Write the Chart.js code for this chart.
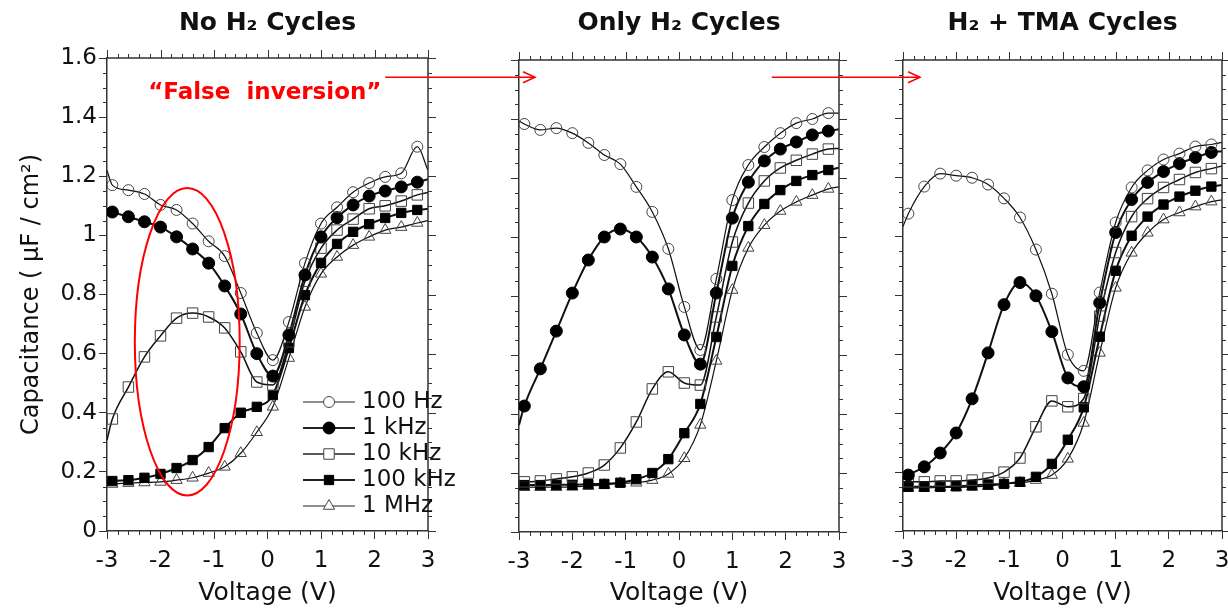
<!DOCTYPE html>
<html><head><meta charset="utf-8">
<script src="https://cdn.jsdelivr.net/npm/chart.js@4/dist/chart.umd.min.js"></script>
<style>
html,body{margin:0;padding:0;background:#fff;overflow:hidden}
#wrap{position:relative;width:1228px;height:608px}
canvas{position:absolute;left:0;top:0}
</style>
</head><body>
<div id="wrap">
<canvas id="c1" width="1228" height="608"></canvas>
<canvas id="c2" width="1228" height="608"></canvas>
<canvas id="c3" width="1228" height="608"></canvas>
</div>
<script>
// ---------------- DATA ----------------
const voltage = [-3.0, -2.9, -2.6, -2.3, -2.0, -1.7, -1.4, -1.1, -0.8, -0.5, -0.2, 0.1, 0.4, 0.7, 1.0, 1.3, 1.6, 1.9, 2.2, 2.5, 2.8, 3.0];
const seriesLabels = ['100 Hz', '1 kHz', '10 kHz', '100 kHz', '1 MHz'];
const panelTitles = ['No H\u2082 Cycles', 'Only H\u2082 Cycles', 'H\u2082 + TMA Cycles'];
const xTickLabels = [-3, -2, -1, 0, 1, 2, 3];
const yTickLabels = [0, 0.2, 0.4, 0.6, 0.8, 1, 1.2, 1.4, 1.6];

// Panel 1: No H2 cycles
const noH2_100Hz  = [1.22, 1.17, 1.153, 1.14, 1.103, 1.086, 1.04, 0.98, 0.93, 0.805, 0.67, 0.578, 0.707, 0.906, 1.04, 1.095, 1.146, 1.177, 1.198, 1.21, 1.30, 1.22];
const noH2_1kHz   = [1.086, 1.079, 1.063, 1.046, 1.028, 0.995, 0.954, 0.906, 0.829, 0.734, 0.60, 0.524, 0.663, 0.866, 0.995, 1.06, 1.103, 1.133, 1.15, 1.164, 1.18, 1.19];
const noH2_10kHz  = [0.308, 0.379, 0.487, 0.589, 0.66, 0.72, 0.737, 0.724, 0.687, 0.606, 0.504, 0.494, 0.64, 0.845, 0.957, 1.018, 1.055, 1.09, 1.10, 1.116, 1.137, 1.145];
const noH2_100kHz = [0.165, 0.169, 0.172, 0.18, 0.193, 0.213, 0.24, 0.284, 0.348, 0.40, 0.42, 0.46, 0.619, 0.798, 0.907, 0.971, 1.012, 1.038, 1.059, 1.076, 1.086, 1.09];
const noH2_1MHz   = [0.158, 0.159, 0.162, 0.164, 0.166, 0.172, 0.18, 0.196, 0.217, 0.263, 0.334, 0.42, 0.585, 0.758, 0.87, 0.927, 0.967, 0.995, 1.018, 1.028, 1.042, 1.05];

// Panel 2: Only H2 cycles
const onlyH2_100Hz  = [1.393, 1.383, 1.363, 1.369, 1.352, 1.319, 1.278, 1.247, 1.17, 1.085, 0.96, 0.763, 0.617, 0.858, 1.125, 1.244, 1.305, 1.352, 1.386, 1.40, 1.42, 1.42];
const onlyH2_1kHz   = [0.363, 0.427, 0.553, 0.681, 0.81, 0.922, 1.0, 1.027, 1.0, 0.932, 0.824, 0.668, 0.569, 0.81, 1.064, 1.186, 1.258, 1.298, 1.322, 1.346, 1.359, 1.365];
const onlyH2_10kHz  = [0.17, 0.17, 0.173, 0.18, 0.187, 0.2, 0.227, 0.285, 0.373, 0.485, 0.543, 0.505, 0.498, 0.729, 0.983, 1.115, 1.19, 1.234, 1.26, 1.281, 1.298, 1.30];
const onlyH2_100kHz = [0.159, 0.159, 0.159, 0.16, 0.16, 0.162, 0.163, 0.167, 0.179, 0.2, 0.247, 0.335, 0.434, 0.661, 0.902, 1.037, 1.112, 1.159, 1.19, 1.21, 1.227, 1.235];
const onlyH2_1MHz   = [0.152, 0.152, 0.152, 0.152, 0.153, 0.156, 0.159, 0.165, 0.167, 0.176, 0.197, 0.25, 0.363, 0.58, 0.82, 0.963, 1.04, 1.088, 1.119, 1.142, 1.163, 1.17];

// Panel 3: H2 + TMA cycles
const h2tma_100Hz  = [1.034, 1.078, 1.17, 1.214, 1.207, 1.20, 1.177, 1.13, 1.065, 0.956, 0.806, 0.599, 0.544, 0.81, 1.048, 1.167, 1.225, 1.262, 1.282, 1.306, 1.313, 1.32];
const h2tma_1kHz   = [0.175, 0.19, 0.218, 0.265, 0.333, 0.449, 0.605, 0.769, 0.844, 0.799, 0.677, 0.52, 0.49, 0.775, 1.014, 1.126, 1.184, 1.221, 1.248, 1.269, 1.286, 1.29];
const h2tma_10kHz  = [0.167, 0.167, 0.167, 0.17, 0.17, 0.173, 0.18, 0.2, 0.248, 0.354, 0.442, 0.422, 0.45, 0.73, 0.946, 1.068, 1.129, 1.167, 1.194, 1.218, 1.231, 1.24];
const h2tma_100kHz = [0.15, 0.15, 0.15, 0.15, 0.152, 0.155, 0.158, 0.16, 0.167, 0.184, 0.228, 0.31, 0.42, 0.66, 0.884, 1.003, 1.068, 1.109, 1.136, 1.156, 1.17, 1.175];
const h2tma_1MHz   = [0.146, 0.146, 0.146, 0.148, 0.148, 0.15, 0.152, 0.16, 0.163, 0.173, 0.19, 0.245, 0.367, 0.605, 0.826, 0.945, 1.013, 1.058, 1.082, 1.102, 1.119, 1.125];

const panelData = [
  [noH2_100Hz, noH2_1kHz, noH2_10kHz, noH2_100kHz, noH2_1MHz],
  [onlyH2_100Hz, onlyH2_1kHz, onlyH2_10kHz, onlyH2_100kHz, onlyH2_1MHz],
  [h2tma_100Hz, h2tma_1kHz, h2tma_10kHz, h2tma_100kHz, h2tma_1MHz]
];

// ---------------- STYLE / LAYOUT ----------------
const FONT = "'DejaVu Sans', sans-serif";
const W = 1228, H = 608;
const panelBoxes = [
  {left: 107, right: 428, top: 58, bottom: 531},
  {left: 519, right: 839, top: 60, bottom: 532},
  {left: 903, right: 1222, top: 60, bottom: 531}
];
const YAXIS_W = 107;
const seriesStyle = [
  {pointStyle: 'circle',   r: 5.5, fill: 'rgba(0,0,0,0)', pb: '#444', lw: 1.2},
  {pointStyle: 'circle',   r: 6.0, fill: '#000',          pb: '#000', lw: 2.0},
  {pointStyle: 'rect',     r: 7.4, fill: 'rgba(0,0,0,0)', pb: '#444', lw: 1.5},
  {pointStyle: 'rect',     r: 6.6, fill: '#000',          pb: '#000', lw: 2.0},
  {pointStyle: 'triangle', r: 6.5, fill: 'rgba(0,0,0,0)', pb: '#444', lw: 1.2}
];

function line(ctx, x1, y1, x2, y2) { ctx.beginPath(); ctx.moveTo(x1, y1); ctx.lineTo(x2, y2); ctx.stroke(); }

const frameTicks = {
  id: 'frameTicks',
  afterDraw(chart) {
    const {ctx, chartArea: a, scales: {x, y}} = chart;
    ctx.save();
    ctx.strokeStyle = '#333';
    ctx.lineWidth = 1.5;
    ctx.beginPath(); ctx.moveTo(a.left, a.top); ctx.lineTo(a.right, a.top); ctx.lineTo(a.right, a.bottom); ctx.stroke();
    ctx.lineWidth = 1;
    for (let k = 0; k <= 30; k++) {
      const px = Math.round(x.getPixelForValue(-3 + k * 0.2)) + 0.5;
      const major = k % 5 === 0, L = major ? 8 : 4;
      line(ctx, px, a.top, px, a.top - L);
      if (!major) line(ctx, px, a.bottom, px, a.bottom + L);
    }
    for (let k = 0; k <= 32; k++) {
      const py = Math.round(y.getPixelForValue(k * 0.05)) + 0.5;
      const major = k % 4 === 0, L = major ? 8 : 4;
      line(ctx, a.right, py, a.right + L, py);
      if (!major) line(ctx, a.left, py, a.left - L, py);
    }
    ctx.restore();
  }
};

const legendPlugin = {
  id: 'cvLegend',
  afterDraw(chart) {
    const ctx = chart.ctx, a = chart.chartArea;
    const x0 = a.left + 196, x1 = a.left + 248, xt = a.left + 255, y0 = a.top + 344;
    ctx.save();
    chart.data.datasets.forEach((ds, i) => {
      const y = y0 + i * 26;
      ctx.strokeStyle = '#222'; ctx.lineWidth = ds.borderWidth;
      line(ctx, x0, y, x1, y);
      ctx.fillStyle = ds.pointBackgroundColor === '#000' ? '#000' : '#fff';
      ctx.strokeStyle = ds.pointBorderColor; ctx.lineWidth = 1;
      Chart.helpers.drawPoint(ctx, {pointStyle: ds.pointStyle, radius: ds.markerRadius, rotation: 0, borderWidth: 1}, (x0 + x1) / 2, y);
      ctx.fillStyle = '#111'; ctx.font = '23px ' + FONT; ctx.textBaseline = 'middle'; ctx.textAlign = 'left';
      ctx.fillText(ds.label, xt, y);
    });
    ctx.restore();
  }
};

const charts = [];

const annotations1 = {
  id: 'annot1',
  afterDraw(chart) {
    const {ctx, scales: {x, y}} = chart;
    ctx.save();
    const cx = x.getPixelForValue(-1.5), cy = y.getPixelForValue(0.64);
    const rx = x.getPixelForValue(-0.52) - cx, ry = cy - y.getPixelForValue(1.16);
    ctx.strokeStyle = '#f00'; ctx.lineWidth = 2;
    ctx.beginPath(); ctx.ellipse(cx, cy, rx, ry, 0, 0, Math.PI * 2); ctx.stroke();
    ctx.fillStyle = '#f00'; ctx.font = 'bold 23px ' + FONT; ctx.textAlign = 'center'; ctx.textBaseline = 'middle';
    ctx.fillText('\u201CFalse  inversion\u201D', x.getPixelForValue(-0.05), y.getPixelForValue(1.48));
    ctx.restore();
  }
};

function arrow(ctx, xs, xe, yy) {
  line(ctx, xs, yy, xe, yy);
  ctx.beginPath(); ctx.moveTo(xe - 12, yy - 5.5); ctx.lineTo(xe, yy); ctx.lineTo(xe - 12, yy + 5.5); ctx.stroke();
}
const arrowsPlugin = {
  id: 'arrows',
  afterDraw(chart) {
    if (charts.length < 2) return;
    const ctx = chart.ctx;
    const c1 = charts[0].scales, c2 = charts[1].scales, c3 = chart.scales;
    ctx.save(); ctx.strokeStyle = '#f00'; ctx.lineWidth = 1.5;
    arrow(ctx, c1.x.getPixelForValue(2.2), c2.x.getPixelForValue(-2.7), c1.y.getPixelForValue(1.535));
    arrow(ctx, c2.x.getPixelForValue(1.74), c3.x.getPixelForValue(-2.68), c1.y.getPixelForValue(1.535));
    ctx.restore();
  }
};

function makeChart(idx) {
  const box = panelBoxes[idx];
  const datasets = panelData[idx].map((vals, si) => {
    const st = seriesStyle[si];
    return {
      label: seriesLabels[si],
      data: voltage.map((v, i) => ({x: v, y: vals[i]})),
      borderColor: '#111',
      borderWidth: st.lw,
      cubicInterpolationMode: 'monotone',
      pointStyle: st.pointStyle,
      markerRadius: st.r,
      pointRadius: (c) => (c.dataIndex === 0 || c.dataIndex === voltage.length - 1) ? 0 : st.r,
      pointBackgroundColor: st.fill,
      pointBorderColor: st.pb,
      pointBorderWidth: 1,
      fill: false
    };
  });
  const plugins = [frameTicks];
  if (idx === 0) plugins.push(legendPlugin, annotations1);
  if (idx === 2) plugins.push(arrowsPlugin);
  const chart = new Chart(document.getElementById('c' + (idx + 1)), {
    type: 'line',
    data: {datasets},
    plugins,
    options: {
      responsive: false,
      animation: false,
      devicePixelRatio: 1,
      events: [],
      layout: {padding: {left: box.left - YAXIS_W, right: W - box.right, top: 0, bottom: 0}},
      plugins: {
        legend: {display: false},
        tooltip: {enabled: false},
        title: {
          display: true, text: panelTitles[idx], fullSize: false, color: '#111',
          font: {family: FONT, size: 25, weight: 'bold', lineHeight: 1.2},
          padding: {top: 8, bottom: box.top - 38}
        }
      },
      scales: {
        x: {
          type: 'linear', min: -3, max: 3,
          afterBuildTicks: (s) => { s.ticks = xTickLabels.map(v => ({value: v})); },
          afterFit: (s) => { s.height = H - box.bottom; s.paddingLeft = 0; s.paddingRight = 0; },
          ticks: {color: '#111', font: {family: FONT, size: 23}, padding: 8, maxRotation: 0, autoSkip: false, callback: (v) => String(v)},
          grid: {drawOnChartArea: false, drawTicks: true, tickLength: 8, color: '#333', lineWidth: 1},
          border: {color: '#333', width: 1.5},
          title: {display: true, text: 'Voltage (V)', color: '#111', font: {family: FONT, size: 25, lineHeight: 1.2}, padding: {top: 0, bottom: 0}}
        },
        y: {
          type: 'linear', min: 0, max: 1.6,
          afterBuildTicks: (s) => { s.ticks = yTickLabels.map(v => ({value: v})); },
          afterFit: (s) => { s.width = YAXIS_W; s.paddingTop = 0; s.paddingBottom = 0; },
          ticks: {color: '#111', font: {family: FONT, size: 23}, padding: 2, autoSkip: false,
                  callback: (v) => idx === 0 ? String(Math.round(v * 10) / 10) : ''},
          grid: {drawOnChartArea: false, drawTicks: true, tickLength: 8, color: '#333', lineWidth: 1},
          border: {color: '#333', width: 1.5},
          title: {display: idx === 0, text: 'Capacitance ( \u00B5F / cm\u00B2)', color: '#111', font: {family: FONT, size: 24, lineHeight: 1.2}, padding: {top: 17, bottom: 0}}
        }
      }
    }
  });
  charts.push(chart);
  return chart;
}
makeChart(0); makeChart(1); makeChart(2);
</script>
</body></html>
